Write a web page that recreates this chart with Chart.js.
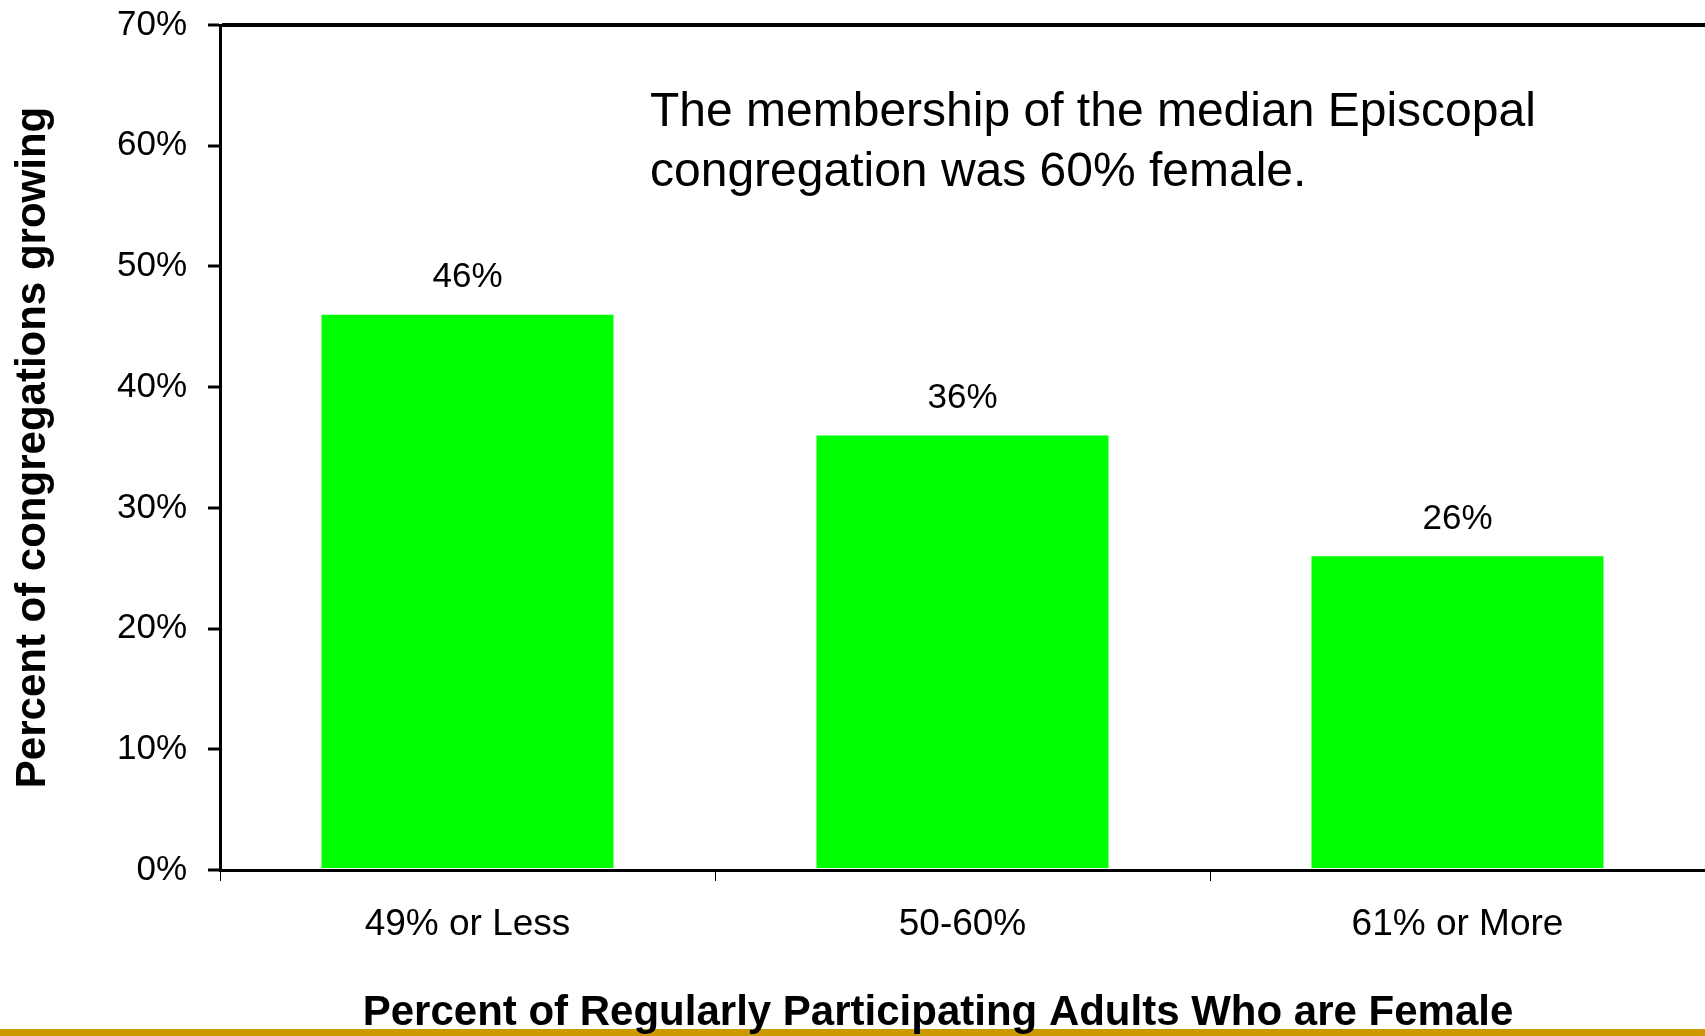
<!DOCTYPE html>
<html>
<head>
<meta charset="utf-8">
<title>Growing congregations by share of female adults</title>
<script src="https://cdn.jsdelivr.net/npm/chart.js@4.4.1/dist/chart.umd.min.js"></script>
<style>
  html, body { margin: 0; padding: 0; background: #fff; }
  canvas { display: block; }
</style>
</head>
<body>
<canvas id="myChart" width="1705" height="1036"></canvas>
<script>
const categories = ['49% or Less', '50-60%', '61% or More'];
const growingPct = [46, 36, 26];
const yMax = 70;
const yStep = 10;
const noteLines = ['The membership of the median Episcopal', 'congregation was 60% female.'];
const xTitle = 'Percent of Regularly Participating Adults Who are Female';

const ctx = document.getElementById('myChart').getContext('2d');
const font = "'Liberation Sans', Arial, sans-serif";

// value labels above the bars, the note, the x title and the gold rule
const extras = {
  id: 'extras',
  afterDatasetsDraw(chart) {
    const c = chart.ctx;
    const meta = chart.getDatasetMeta(0);
    c.save();
    c.fillStyle = '#000';
    c.textAlign = 'center';
    c.textBaseline = 'middle';
    c.font = '35px ' + font;
    meta.data.forEach((bar, i) => {
      c.fillText(growingPct[i] + '%', bar.x, bar.y - 37);
    });

    c.textAlign = 'left';
    c.font = '48px ' + font;
    noteLines.forEach((line, i) => {
      c.fillText(line, 650, 113 + i * 60);
    });
    c.restore();
  },
  afterDraw(chart) {
    const c = chart.ctx;
    c.save();
    c.fillStyle = '#cc9900';
    c.fillRect(0, chart.height - 7, chart.width, 7);
    // x axis title (sits a bit left of the plot centre in the original)
    c.fillStyle = '#000';
    c.textAlign = 'center';
    c.textBaseline = 'middle';
    c.font = 'bold 42px ' + font;
    c.fillText(xTitle, 938, 1013);
    c.restore();
  }
};

new Chart(ctx, {
  type: 'bar',
  data: {
    labels: categories,
    datasets: [{
      data: growingPct,
      backgroundColor: '#00ff00',
      borderWidth: 0,
      barPercentage: 0.59,
      categoryPercentage: 1
    }]
  },
  options: {
    responsive: false,
    animation: false,
    layout: { padding: { top: 25, right: 0, left: 0, bottom: 0 } },
    plugins: {
      legend: { display: false },
      tooltip: { enabled: false }
    },
    scales: {
      x: {
        afterFit: s => { s.height = 166; },
        border: { display: true, color: '#000', width: 3 },
        grid: {
          offset: true,
          drawOnChartArea: false,
          drawTicks: true,
          tickLength: 11,
          tickColor: '#000',
          tickWidth: 1
        },
        ticks: {
          color: '#000',
          padding: 22,
          font: { family: font, size: 37 }
        }
      },
      y: {
        min: 0,
        max: yMax,
        afterFit: s => {
          s.width = 220;
          s.paddingTop = 0;
          s.paddingBottom = 0;
        },
        border: { display: true, color: '#000', width: 3 },
        grid: {
          drawOnChartArea: true,
          color: c => (c.tick && c.tick.value === yMax) ? '#000' : 'rgba(0,0,0,0)',
          lineWidth: 4,
          drawTicks: true,
          tickLength: 12,
          tickColor: '#000',
          tickWidth: 3
        },
        ticks: {
          stepSize: yStep,
          color: '#000',
          padding: 21,
          font: { family: font, size: 35 },
          callback: v => v + '%'
        },
        title: {
          display: true,
          text: 'Percent of congregations growing',
          color: '#000',
          padding: { top: 12, bottom: 0 },
          font: { family: font, size: 42, weight: 'bold', lineHeight: 1 }
        }
      }
    }
  },
  plugins: [extras]
});
</script>
</body>
</html>
